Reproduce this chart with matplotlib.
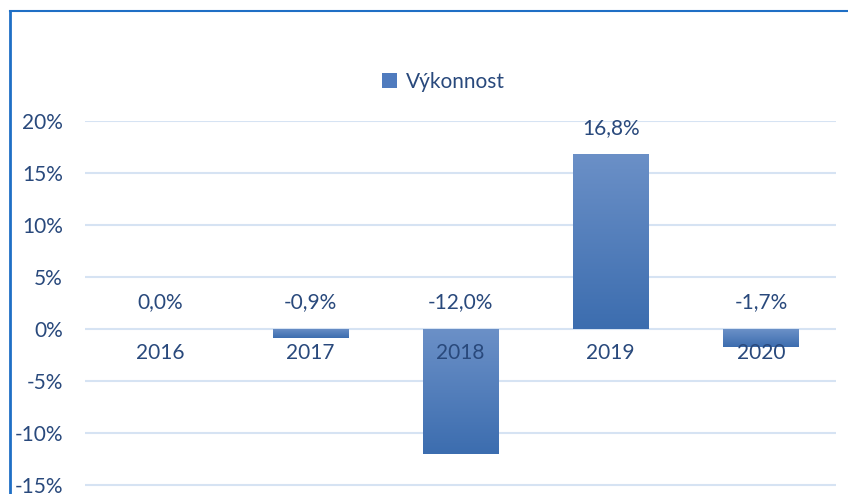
import numpy as np
import matplotlib
matplotlib.use('Agg')
import matplotlib.pyplot as plt
from matplotlib.patches import Patch
from matplotlib.colors import LinearSegmentedColormap
from matplotlib.lines import Line2D

# --- data ---
years = ['2016', '2017', '2018', '2019', '2020']
performance = [0.0, -0.9, -12.0, 16.8, -1.7]
series_name = 'Výkonnost'

text_color = '#29497C'
grid_color = '#D6E3F3'
border_color = '#1F6FC5'
grad = LinearSegmentedColormap.from_list('bar', ['#3C6DAF', '#6B90C7'])
fs = 15

plt.rcParams['font.family'] = ['Lato', 'DejaVu Sans']

fig = plt.figure(figsize=(8.48, 4.94), dpi=100)
ax = fig.add_axes([85 / 848, 0, 751 / 848, (494 - 121) / 494])

x = np.arange(len(years))
bars = ax.bar(x, performance, width=0.5, color='#4F7BBE', zorder=2)

# gradient fill clipped to each bar (light at top, dark at bottom)
g = np.linspace(0, 1, 256).reshape(-1, 1)
for b in bars:
    if b.get_height() == 0:
        continue
    x0, y0 = b.get_x(), b.get_y()
    x1, y1 = x0 + b.get_width(), y0 + b.get_height()
    ylo, yhi = min(y0, y1), max(y0, y1)
    im = ax.imshow(g, cmap=grad, extent=[x0, x1, ylo, yhi], origin='lower',
                   aspect='auto', zorder=3)
    im.set_clip_path(b)

ax.set_xlim(-0.5, len(years) - 0.5)
ax.set_ylim(-15.87, 20)
ax.set_yticks(np.arange(-15, 21, 5))
ax.set_yticklabels([f'{v}%' for v in range(-15, 21, 5)])
ax.tick_params(axis='y', length=0, pad=16, labelsize=fs, labelcolor=text_color)
ax.set_xticks([])
ax.grid(axis='y', color=grid_color, linewidth=1.5, zorder=0)
for s in ax.spines.values():
    s.set_visible(False)

# data labels and year labels
for xi, v, yr in zip(x, performance, years):
    ax.annotate(f'{v:.1f}%'.replace('.', ','), (xi, max(v, 0)), xytext=(0, 19),
                textcoords='offset points', ha='center', va='center',
                fontsize=fs, color=text_color, zorder=5)
    ax.annotate(yr, (xi, 0), xytext=(0, -17), textcoords='offset points',
                ha='center', va='center', fontsize=fs, color=text_color, zorder=5)

fig.legend(handles=[Patch(facecolor='#4F7BBE', label=series_name)],
           loc='center', bbox_to_anchor=(443 / 848, 1 - 82 / 494), frameon=False,
           fontsize=fs, labelcolor=text_color, handlelength=0.75, handleheight=0.75,
           handletextpad=0.4)

# chart border (top and left edges visible)
fig.add_artist(Line2D([10 / 848, 10 / 848], [0, 1 - 11 / 494], color=border_color,
                      linewidth=2, transform=fig.transFigure))
fig.add_artist(Line2D([10 / 848, 1], [1 - 11 / 494, 1 - 11 / 494], color=border_color,
                      linewidth=1.5, transform=fig.transFigure))

fig.savefig('out.png', dpi=100)
